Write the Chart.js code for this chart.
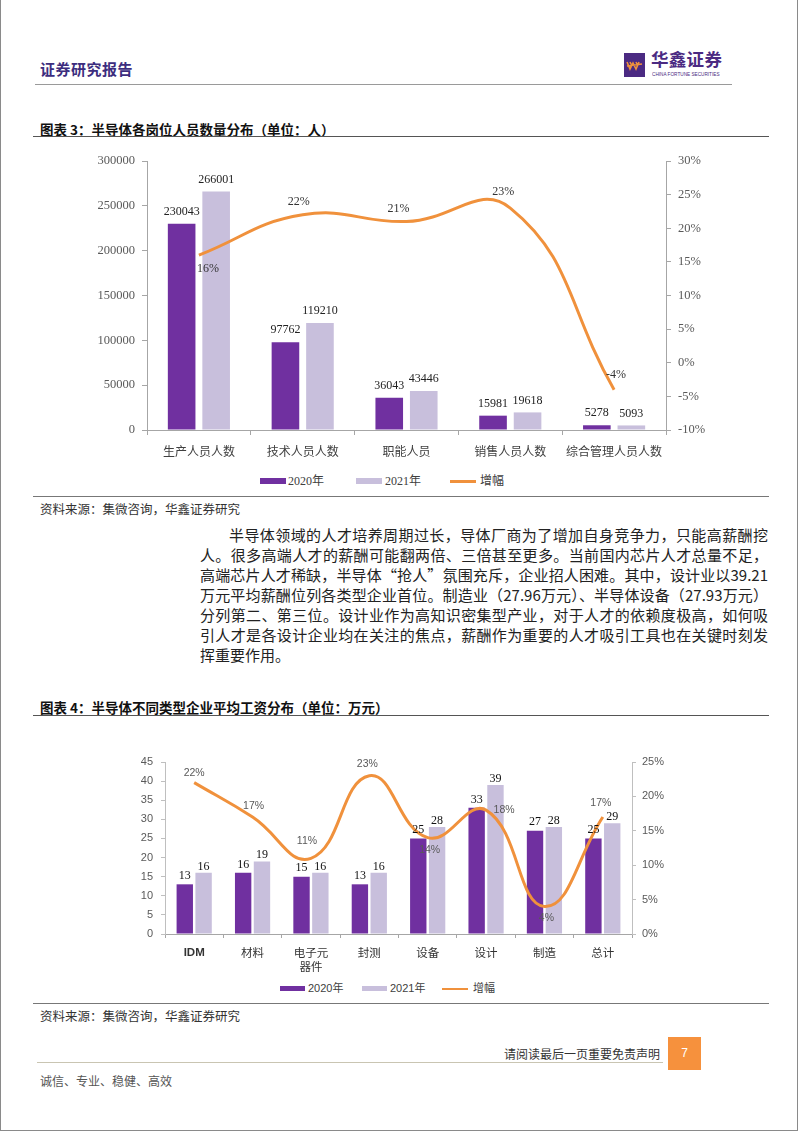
<!DOCTYPE html>
<html><head><meta charset="utf-8">
<script src="https://cdn.jsdelivr.net/npm/chart.js@4.4.0/dist/chart.umd.min.js"></script>
<style>
html,body{margin:0;padding:0;background:#fff;}
body{width:802px;height:1133px;position:relative;overflow:hidden;font-family:"Noto Sans CJK SC",sans-serif;color:#222;}
.a{position:absolute;white-space:nowrap;}
.hl{position:absolute;height:0;}
.pl{position:absolute;font-size:15px;line-height:20px;height:20px;text-align:justify;text-align-last:justify;color:#222;white-space:nowrap;}
.lg{position:absolute;color:#404040;white-space:nowrap;line-height:14px;}
</style></head>
<body>
<div class="a" style="left:0;top:-3px;width:796px;height:1132px;border:1.5px solid #8a8a8a;"></div>

<!-- header -->
<div class="a" style="left:40px;top:58px;font-size:15px;font-weight:bold;color:#3c2d7e;letter-spacing:0.5px;">证券研究报告</div>
<div class="a" style="left:624px;top:53px;width:21px;height:24px;background:#4b2a82;">
  <svg width="21" height="24" style="position:absolute;left:0;top:0"><path d="M3 9 L6 16 L9 10 L12 16 L15 9 M6 9 L7.5 12 M12 9 L13.5 12 M3 13 L18 11" stroke="#f0913c" stroke-width="1.6" fill="none"/></svg>
</div>
<div class="a" style="left:651px;top:47px;font-size:17.5px;line-height:24px;font-weight:bold;color:#4b2a82;letter-spacing:0.3px;">华鑫证券</div>
<div class="a" style="left:652px;top:71px;font-size:6px;line-height:7px;color:#4b2a82;font-family:'Liberation Sans';transform:scale(0.78,1);transform-origin:0 0;">CHINA FORTUNE SECURITIES</div>
<div class="hl" style="left:35px;top:84px;width:697px;border-top:1px solid #9a9a9a;"></div>

<!-- chart 1 title -->
<div class="a" style="left:40px;top:119px;font-size:13.5px;font-weight:bold;color:#111;">图表 3：半导体各岗位人员数量分布（单位：人）</div>
<div class="hl" style="left:33px;top:136px;width:736px;border-top:1.5px solid #555;"></div>

<div class="a" style="left:60px;top:145px;width:680px;height:315px;"><canvas id="c1" width="680" height="315"></canvas></div>

<!-- legend 1 -->
<div class="a" style="left:260px;top:478px;width:26px;height:6px;background:#7030a0;"></div>
<div class="lg" style="left:288px;top:474px;font-family:'Liberation Serif','Noto Sans CJK SC';font-size:12px;">2020年</div>
<div class="a" style="left:356px;top:478px;width:26px;height:6px;background:#c8bfdc;"></div>
<div class="lg" style="left:385px;top:474px;font-family:'Liberation Serif','Noto Sans CJK SC';font-size:12px;">2021年</div>
<div class="a" style="left:450px;top:480px;width:26px;height:2.5px;background:#f0913c;"></div>
<div class="lg" style="left:480px;top:474px;font-family:'Liberation Serif','Noto Sans CJK SC';font-size:12px;">增幅</div>

<div class="hl" style="left:33px;top:496px;width:736px;border-top:1.5px solid #777;"></div>
<div class="a" style="left:40px;top:499px;font-size:12.5px;color:#333;">资料来源：集微咨询，华鑫证券研究</div>

<!-- paragraph -->
<div class="pl" style="left:229px;top:525px;width:539px;">半导体领域的人才培养周期过长，导体厂商为了增加自身竞争力，只能高薪酬挖</div>
<div class="pl" style="left:200px;top:545px;width:568px;">人。很多高端人才的薪酬可能翻两倍、三倍甚至更多。当前国内芯片人才总量不足，</div>
<div class="pl" style="left:200px;top:565px;width:568px;">高端芯片人才稀缺，半导体“抢人”氛围充斥，企业招人困难。其中，设计业以39.21</div>
<div class="pl" style="left:200px;top:585px;width:568px;">万元平均薪酬位列各类型企业首位。制造业（27.96万元）、半导体设备（27.93万元）</div>
<div class="pl" style="left:200px;top:605px;width:568px;">分列第二、第三位。设计业作为高知识密集型产业，对于人才的依赖度极高，如何吸</div>
<div class="pl" style="left:200px;top:625px;width:568px;">引人才是各设计企业均在关注的焦点，薪酬作为重要的人才吸引工具也在关键时刻发</div>
<div class="pl" style="left:200px;top:645px;text-align:left;text-align-last:left;">挥重要作用。</div>

<!-- chart 2 title -->
<div class="a" style="left:40px;top:697px;font-size:13.5px;font-weight:bold;color:#111;">图表 4：半导体不同类型企业平均工资分布（单位：万元）</div>
<div class="hl" style="left:33px;top:715px;width:736px;border-top:1.5px solid #555;"></div>

<div class="a" style="left:90px;top:735px;width:610px;height:244px;"><canvas id="c2" width="610" height="244"></canvas></div>

<!-- legend 2 -->
<div class="a" style="left:280px;top:986px;width:25px;height:5px;background:#7030a0;"></div>
<div class="lg" style="left:308px;top:981px;font-family:'Liberation Sans','Noto Sans CJK SC';font-size:11px;">2020年</div>
<div class="a" style="left:362px;top:986px;width:25px;height:5px;background:#c8bfdc;"></div>
<div class="lg" style="left:390px;top:981px;font-family:'Liberation Sans','Noto Sans CJK SC';font-size:11px;">2021年</div>
<div class="a" style="left:442px;top:987.5px;width:26px;height:2px;background:#f0913c;"></div>
<div class="lg" style="left:473px;top:981px;font-family:'Liberation Sans','Noto Sans CJK SC';font-size:11px;">增幅</div>

<div class="hl" style="left:33px;top:1003px;width:736px;border-top:1.5px solid #777;"></div>
<div class="a" style="left:40px;top:1006px;font-size:12.5px;color:#333;">资料来源：集微咨询，华鑫证券研究</div>

<!-- footer -->
<div class="a" style="left:504px;top:1045px;width:156px;font-size:12px;color:#333;text-align:right;">请阅读最后一页重要免责声明</div>
<div class="a" style="left:668px;top:1037px;width:33px;height:33px;background:#f6913d;color:#fff;font-size:12px;text-align:center;line-height:33px;font-family:'Liberation Sans';">7</div>
<div class="hl" style="left:37px;top:1062px;width:626px;border-top:1px solid #c9c5b2;"></div>
<div class="a" style="left:40px;top:1072px;font-size:12px;color:#555;">诚信、专业、稳健、高效</div>

<script>
// ---------- data: chart 1 ----------
const posCategories = ['生产人员人数','技术人员人数','职能人员','销售人员人数','综合管理人员人数'];
const staff2020 = [230043, 97762, 36043, 15981, 5278];
const staff2021 = [266001, 119210, 43446, 19618, 5093];
const staffGrowth = [16, 22, 21, 23, -4];
const staffLeftRange = [0, 300000, 50000];
const staffRightRange = [-10, 30, 5];

// ---------- data: chart 2 ----------
const salaryCategories = ['IDM','材料',['电子元','器件'],'封测','设备','设计','制造','总计'];
const salary2020 = [13, 16, 15, 13, 25, 33, 27, 25];
const salary2021 = [16, 19, 16, 16, 28, 39, 28, 29];
const salaryGrowth = [22, 17, 11, 23, 14, 18, 4, 17];
const salaryLeftRange = [0, 45, 5];
const salaryRightRange = [0, 25, 5];

const seriesNames = ['2020年','2021年','增幅'];
const C_DARK = '#7030a0', C_LIGHT = '#c8bfdc', C_LINE = '#f0913c';
const SERIF = "'Liberation Serif', 'Noto Sans CJK SC'";
const SANS = "'Liberation Sans', 'Noto Sans CJK SC'";
const CJK = "'Noto Sans CJK SC'";

const valueLabels = {
  id: 'valueLabels',
  afterDatasetsDraw(chart, args, opts) {
    const ctx = chart.ctx;
    (opts.sets || []).forEach((cfg, di) => {
      if (!cfg) return;
      const meta = chart.getDatasetMeta(di);
      const ds = chart.data.datasets[di];
      ctx.save();
      ctx.font = cfg.font;
      ctx.fillStyle = cfg.color;
      ctx.textAlign = 'center';
      ctx.textBaseline = 'middle';
      meta.data.forEach((el, i) => {
        const p = el.getProps(['x', 'y'], true);
        const off = cfg.offsets ? cfg.offsets[i] : [0, cfg.dy];
        ctx.fillText(cfg.format(ds.data[i]), p.x + off[0], p.y + off[1]);
      });
      ctx.restore();
    });
  }
};

const pct = v => v + '%';
const plain = v => String(v);

// ---------- chart 1 ----------
new Chart(document.getElementById('c1'), {
  type: 'bar',
  data: {
    labels: posCategories,
    datasets: [
      { type: 'line', label: seriesNames[2], data: staffGrowth, yAxisID: 'y1', borderColor: C_LINE, backgroundColor: C_LINE, borderWidth: 3, pointRadius: 0, tension: 0.45, order: 0 },
      { label: seriesNames[0], data: staff2020, yAxisID: 'y', backgroundColor: C_DARK, categoryPercentage: 0.665, barPercentage: 0.8, order: 1 },
      { label: seriesNames[1], data: staff2021, yAxisID: 'y', backgroundColor: C_LIGHT, categoryPercentage: 0.665, barPercentage: 0.8, order: 1 }
    ]
  },
  options: {
    responsive: false, animation: false, devicePixelRatio: 1,
    layout: { padding: { top: 16, left: 0, right: 0, bottom: 0 } },
    plugins: {
      legend: { display: false }, tooltip: { enabled: false },
      valueLabels: { sets: [
        { font: '12px ' + SERIF, color: '#333', format: pct, offsets: [[9, 14], [-4, -13], [-8, -13], [-7, -16], [2, -15]] },
        { font: '12px ' + SERIF, color: '#222', format: plain, dy: -12 },
        { font: '12px ' + SERIF, color: '#222', format: plain, dy: -12 }
      ] }
    },
    scales: {
      x: {
        grid: { display: true, drawOnChartArea: false, drawTicks: true, tickLength: 5, color: '#a6a6a6', offset: true },
        border: { display: true, color: '#a6a6a6', width: 1 },
        ticks: { font: { family: CJK, size: 12 }, color: '#404040', padding: 9, maxRotation: 0, autoSkip: false },
        afterFit(s) { s.height = 30; }
      },
      y: {
        position: 'left', min: staffLeftRange[0], max: staffLeftRange[1],
        ticks: { stepSize: staffLeftRange[2], padding: 7, color: '#595959', font: { family: SERIF, size: 12.5 }, callback: v => String(v) },
        grid: { drawOnChartArea: false, tickLength: 5, color: '#a6a6a6' },
        border: { color: '#a6a6a6' },
        afterFit(s) { s.width = 87; }
      },
      y1: {
        position: 'right', min: staffRightRange[0], max: staffRightRange[1],
        ticks: { stepSize: staffRightRange[2], padding: 7, color: '#595959', font: { family: SERIF, size: 12.5 }, callback: v => v + '%' },
        grid: { drawOnChartArea: false, tickLength: 5, color: '#a6a6a6' },
        border: { color: '#a6a6a6' },
        afterFit(s) { s.width = 74; }
      }
    }
  },
  plugins: [valueLabels]
});

// ---------- chart 2 ----------
new Chart(document.getElementById('c2'), {
  type: 'bar',
  data: {
    labels: salaryCategories,
    datasets: [
      { type: 'line', label: seriesNames[2], data: salaryGrowth, yAxisID: 'y1', borderColor: C_LINE, backgroundColor: C_LINE, borderWidth: 3, pointRadius: 0, tension: 0.45, order: 0 },
      { label: seriesNames[0], data: salary2020, yAxisID: 'y', backgroundColor: C_DARK, categoryPercentage: 0.645, barPercentage: 0.87, order: 1 },
      { label: seriesNames[1], data: salary2021, yAxisID: 'y', backgroundColor: C_LIGHT, categoryPercentage: 0.645, barPercentage: 0.87, order: 1 }
    ]
  },
  options: {
    responsive: false, animation: false, devicePixelRatio: 1,
    layout: { padding: { top: 27, left: 0, right: 0, bottom: 0 } },
    plugins: {
      legend: { display: false }, tooltip: { enabled: false },
      valueLabels: { sets: [
        { font: '10.5px ' + SANS, color: '#595959', format: pct, offsets: [[0, -10], [1, -11], [-4, -17], [-2, -12], [2, 12], [18, 0], [2, 12], [-2, -14]] },
        { font: '12px ' + SERIF, color: '#111', format: plain, dy: -8.5 },
        { font: '12px ' + SERIF, color: '#111', format: plain, dy: -6.5 }
      ] }
    },
    scales: {
      x: {
        grid: { display: true, drawOnChartArea: false, drawTicks: true, tickLength: 4, color: '#a6a6a6', offset: true },
        border: { display: true, color: '#a6a6a6', width: 1 },
        ticks: {
          font: ctx => ({ family: ctx.index === 0 ? SANS : CJK, size: 11.5, weight: ctx.index === 0 ? 'bold' : 'normal' }),
          color: '#333', padding: 8, maxRotation: 0, autoSkip: false
        },
        afterFit(s) { s.height = 45; }
      },
      y: {
        position: 'left', min: salaryLeftRange[0], max: salaryLeftRange[1],
        ticks: { stepSize: salaryLeftRange[2], padding: 8, color: '#595959', font: { family: SANS, size: 11 } },
        grid: { drawOnChartArea: false, tickLength: 4, color: '#bfbfbf' },
        border: { color: '#bfbfbf' },
        afterFit(s) { s.width = 75; }
      },
      y1: {
        position: 'right', min: salaryRightRange[0], max: salaryRightRange[1],
        ticks: { stepSize: salaryRightRange[2], padding: 6, color: '#595959', font: { family: SANS, size: 11 }, callback: v => v + '%' },
        grid: { drawOnChartArea: false, tickLength: 4, color: '#bfbfbf' },
        border: { color: '#bfbfbf' },
        afterFit(s) { s.width = 68; }
      }
    }
  },
  plugins: [valueLabels]
});
</script>
</body></html>
